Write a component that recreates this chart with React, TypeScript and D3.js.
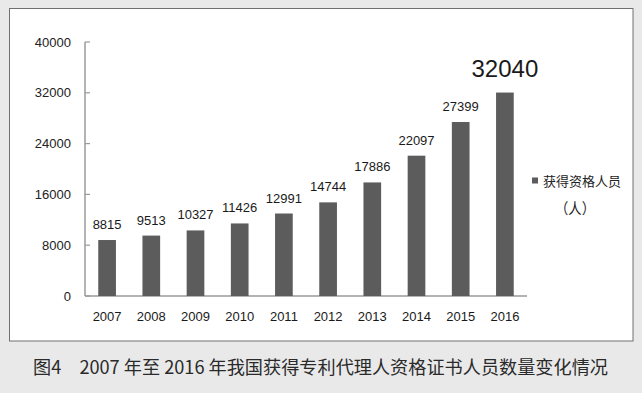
import React from "react";
import * as d3 from "d3";

const years = ["2007", "2008", "2009", "2010", "2011", "2012", "2013", "2014", "2015", "2016"];
const values = [8815, 9513, 10327, 11426, 12991, 14744, 17886, 22097, 27399, 32040];
const yTicks = [0, 8000, 16000, 24000, 32000, 40000];
const legendName = "获得资格人员";
const legendUnit = "（人）";
const caption = "图4　2007 年至 2016 年我国获得专利代理人资格证书人员数量变化情况";

const W = 642;
const H = 393;
const numFont = "'Liberation Sans', Arial, sans-serif";
const cjkFont = "'Noto Sans CJK SC', 'Liberation Sans', sans-serif";

export default function App() {
  const x = d3.scaleBand<string>().domain(years).range([85, 527]).paddingInner(0.6).paddingOuter(0.3);
  const y = d3.scaleLinear().domain([0, 40000]).range([296, 42]);
  const last = values.length - 1;

  return (
    <svg width={W} height={H} style={{ position: "absolute", left: 0, top: 0 }}>
      <rect x={0} y={0} width={W} height={H} fill="#e9e9e9" />
      <rect x={9.5} y={8.5} width={623.5} height={332.5} fill="#ffffff" stroke="#707070" strokeWidth={1} />
      {/* y axis */}
      <line x1={85} x2={85} y1={y(40000)} y2={y(0)} stroke="#9a9a9a" strokeWidth={1.5} />
      {yTicks.map((t) => (
        <g key={t}>
          <line x1={85} x2={90} y1={y(t)} y2={y(t)} stroke="#9a9a9a" strokeWidth={1.2} />
          <text x={71} y={y(t)} dy="0.36em" textAnchor="end" fontSize={13} fontFamily={numFont} fill="#222">
            {t}
          </text>
        </g>
      ))}
      {/* x axis */}
      <line x1={85} x2={527} y1={y(0)} y2={y(0)} stroke="#9a9a9a" strokeWidth={1.5} />
      {years.map((yr, i) => (
        <g key={yr}>
          <rect x={x(yr)!} y={y(values[i])} width={x.bandwidth()} height={y(0) - y(values[i])} fill="#5c5c5c" />
          <text
            x={x(yr)! + x.bandwidth() / 2}
            y={i === last ? y(values[i]) - 16 : y(values[i]) - 11}
            textAnchor="middle"
            fontSize={i === last ? 24 : 13}
            fontFamily={numFont}
            fill="#1a1a1a"
          >
            {values[i]}
          </text>
          <text x={x(yr)! + x.bandwidth() / 2} y={321} textAnchor="middle" fontSize={13} fontFamily={numFont} fill="#1a1a1a">
            {yr}
          </text>
        </g>
      ))}
      {/* legend */}
      <rect x={532} y={177.5} width={6} height={6} fill="#5c5c5c" />
      <text x={543} y={186} fontSize={13} fontFamily={cjkFont} fill="#222" textLength={78} lengthAdjust="spacingAndGlyphs">
        {legendName}
      </text>
      <text x={575} y={214} textAnchor="middle" fontSize={15} fontFamily={cjkFont} fill="#222" textLength={40} lengthAdjust="spacingAndGlyphs">
        {legendUnit}
      </text>
      {/* caption */}
      <text x={33} y={374} fontSize={18} fontFamily={cjkFont} fill="#2a2a2a" textLength={575} lengthAdjust="spacingAndGlyphs">
        {caption}
      </text>
    </svg>
  );
}
